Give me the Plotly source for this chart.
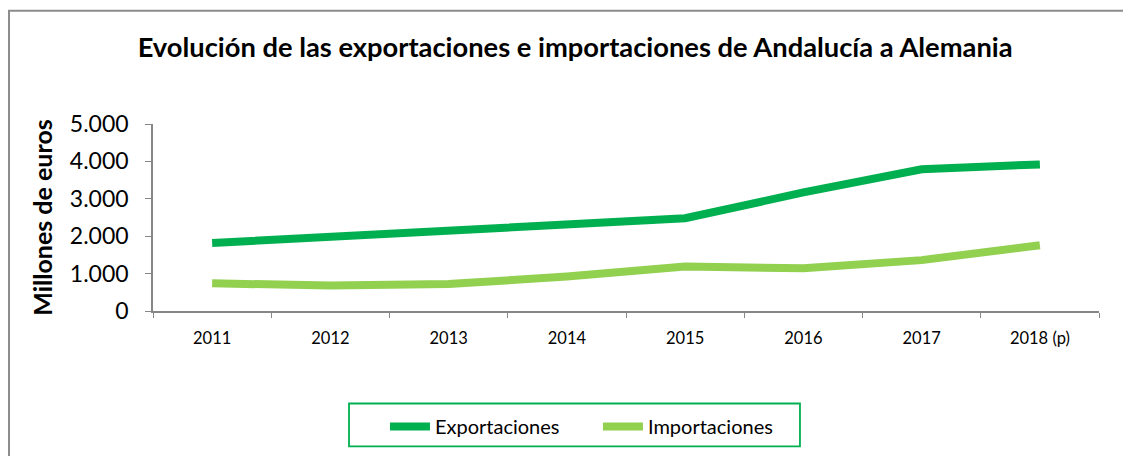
import plotly.graph_objects as go

years = ["2011", "2012", "2013", "2014", "2015", "2016", "2017", "2018 (p)"]
exportaciones = [1820, 1990, 2140, 2290, 2480, 3170, 3790, 3920]
importaciones = [740, 680, 720, 920, 1190, 1140, 1360, 1760]

FONT = "Lato"

fig = go.Figure()
fig.add_trace(go.Scatter(x=years, y=exportaciones, name="Exportaciones", mode="lines",
                         line=dict(color="#00B050", width=8)))
fig.add_trace(go.Scatter(x=years, y=importaciones, name="Importaciones", mode="lines",
                         line=dict(color="#92D050", width=8)))

# the page puts the figure 8px in from the corner
fig.update_layout(
    width=1123, height=448,
    margin=dict(l=145, r=32, t=116, b=144),
    plot_bgcolor="white", paper_bgcolor="white",
    separators=",.",
    font=dict(family=FONT, color="#000000"),
    title=dict(text="<b>Evolución de las exportaciones e importaciones de Andalucía a Alemania</b>",
               x=0.505, xanchor="center", y=0.911, yanchor="middle",
               font=dict(size=27.3, family=FONT)),
    showlegend=True,
    legend=dict(orientation="h", x=0.2452, xanchor="left", y=-0.609, yanchor="middle",
                borderwidth=0, bgcolor="rgba(0,0,0,0)", font=dict(size=20, family=FONT),
                entrywidth=158, itemwidth=40),
    xaxis=dict(type="category", range=[-0.5, 7.5], tickson="boundaries",
               showline=True, linecolor="#868686", linewidth=1.5,
               ticks="outside", ticklen=5, tickcolor="#868686",
               showgrid=False, tickfont=dict(size=16.5), ticklabelstandoff=11),
    yaxis=dict(range=[0, 5000], dtick=1000, tickformat=",",
               showline=True, linecolor="#868686", linewidth=1.5,
               ticks="outside", ticklen=6, tickcolor="#868686",
               showgrid=False, zeroline=False, tickfont=dict(size=23), ticklabelstandoff=12,
               title=dict(text="<b>Millones de euros</b>", font=dict(size=25), standoff=10)),
)

# chart frame
fig.add_shape(type="rect", xref="paper", yref="paper", x0=-0.1522, x1=1.2, y0=-1.0, y1=1.606,
              line=dict(color="#8C8C8C", width=2), layer="below")
# legend box
fig.add_shape(type="rect", xref="paper", yref="paper", x0=0.2072, x1=0.6839, y0=-0.7234, y1=-0.4947,
              line=dict(color="#00B050", width=1.8), layer="below")

fig.write_html("out.html")
